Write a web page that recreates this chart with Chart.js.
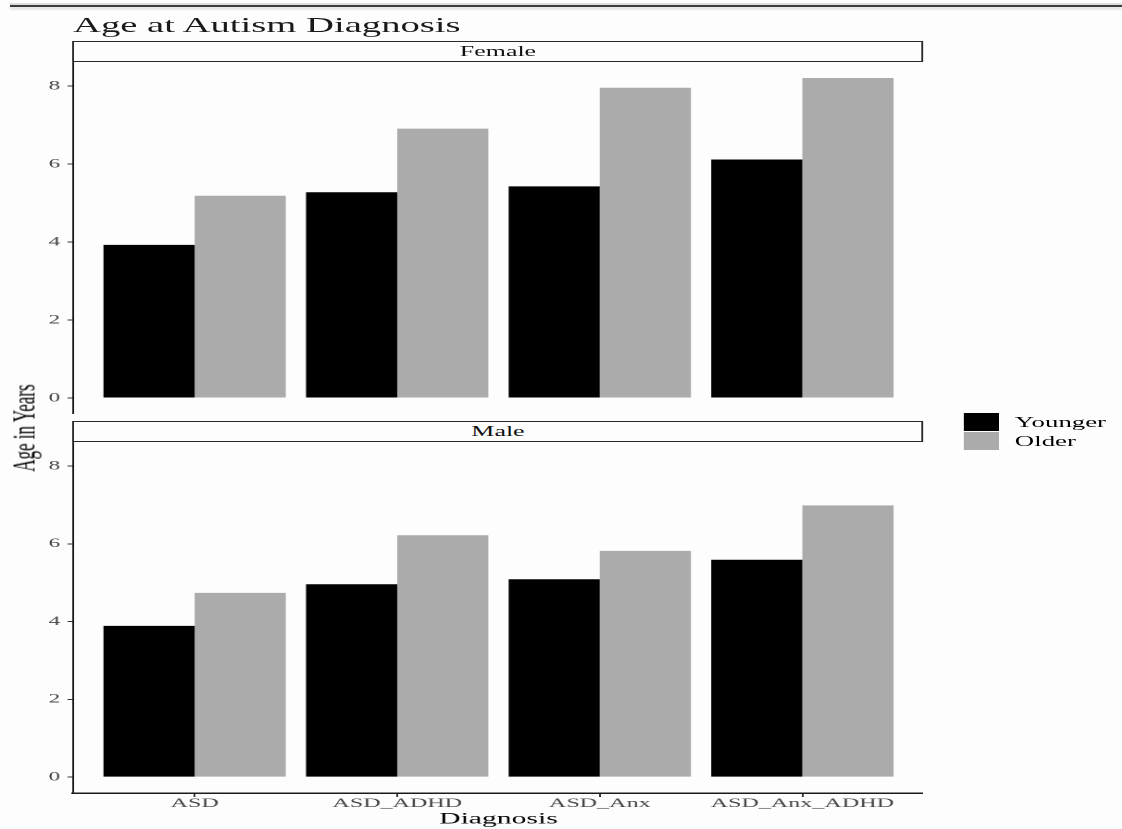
<!doctype html>
<html lang="en">

<head>
    <meta charset="utf-8">
    <title>Age at Autism Diagnosis</title>
    <style>
        * {
            margin: 0;
            padding: 0;
            box-sizing: border-box;
        }

        body {
            width: 1122px;
            height: 829px;
            background: #fdfdfd;
            overflow: hidden;
            font-family: "Liberation Serif", "Times New Roman", serif;
            position: relative;
        }

        .topRule {
            position: absolute;
            left: 10px;
            right: 0;
            top: 5px;
            height: 2px;
            background: #3c3c3c;
            box-shadow: 0 -2px 0 #dcdcdc, 0 2px 3px rgba(0, 0, 0, 0.18);
        }

        /* the source image is stretched sideways, so the whole plot is laid out narrow and widened */
        .stage {
            position: absolute;
            left: 0;
            top: 0;
            width: 606.5px;
            height: 829px;
            transform-origin: 0 0;
            transform: scaleX(1.85);
        }

        .title {
            position: absolute;
            left: 39.5px;
            top: 15px;
            font-size: 20.9px;
            line-height: 1;
            color: #1a1a1a;
            white-space: nowrap;
        }

        .strip {
            position: absolute;
            left: 39.46px;
            width: 459.46px;
            height: 21px;
            border: 1.3px solid #2a2a2a;
            background: #fdfdfd;
            font-size: 14px;
            line-height: 19px;
            text-align: center;
            color: #111;
        }

        .panel {
            position: absolute;
            left: 0;
            width: 498.92px;
        }

        .ylab {
            position: absolute;
            left: 12.97px;
            top: 428px;
            font-size: 17px;
            line-height: 1;
            color: #000;
            white-space: nowrap;
            transform: translate(-50%, -50%) rotate(-90deg);
        }

        .legend {
            position: absolute;
            left: 520.54px;
            top: 413px;
        }

        .legend .row {
            display: flex;
            align-items: center;
            height: 18.5px;
        }

        .legend .key {
            width: 19.46px;
            height: 18px;
        }

        .legend .txt {
            margin-left: 8.6px;
            font-size: 14.5px;
            line-height: 1;
            color: #000;
        }
    </style>
</head>

<body>
    <div class="topRule"></div>
    <div class="stage">
        <div class="title">Age at Autism Diagnosis</div>
        <div class="strip" id="strip1" style="top:41px"></div>
        <div class="panel" style="top:62px;height:352px">
            <canvas id="femaleChart"></canvas>
        </div>
        <div class="strip" id="strip2" style="top:421px"></div>
        <div class="panel" style="top:442px;height:387px">
            <canvas id="maleChart"></canvas>
        </div>
        <div class="ylab">Age in Years</div>
        <div class="legend" id="legend"></div>
    </div>

    <script src="https://cdn.jsdelivr.net/npm/chart.js"></script>
    <script>
        // data
        const categories = ['ASD', 'ASD_ADHD', 'ASD_Anx', 'ASD_Anx_ADHD'];
        const groups = ['Younger', 'Older'];
        const facets = ['Female', 'Male'];
        const femaleYounger = [3.93, 5.28, 5.43, 6.12];
        const femaleOlder = [5.19, 6.91, 7.96, 8.21];
        const maleYounger = [3.89, 4.96, 5.09, 5.59];
        const maleOlder = [4.74, 6.22, 5.82, 6.99];
        const yTicks = [0, 2, 4, 6, 8];

        const colors = ['#000000', '#ababab'];
        const fontFamily = '"Liberation Serif", "Times New Roman", serif';

        document.getElementById('strip1').textContent = facets[0];
        document.getElementById('strip2').textContent = facets[1];

        const legend = document.getElementById('legend');
        groups.forEach((g, i) => {
            const row = document.createElement('div');
            row.className = 'row';
            row.innerHTML = '<div class="key" style="background:' + colors[i] + '"></div><div class="txt">' + g + '</div>';
            legend.appendChild(row);
        });

        const toPoints = (vals) => vals.map((v, i) => ({ x: i + 1, y: v }));

        function makePanel(id, younger, older, showX) {
            return new Chart(document.getElementById(id), {
                type: 'bar',
                data: {
                    datasets: [{
                        label: groups[0],
                        data: toPoints(younger),
                        backgroundColor: colors[0],
                        borderWidth: 0
                    }, {
                        label: groups[1],
                        data: toPoints(older),
                        backgroundColor: colors[1],
                        borderWidth: 0
                    }]
                },
                options: {
                    responsive: true,
                    maintainAspectRatio: false,
                    devicePixelRatio: 2,
                    animation: false,
                    datasets: {
                        bar: {
                            categoryPercentage: 0.9,
                            barPercentage: 1.0
                        }
                    },
                    layout: { padding: 0 },
                    plugins: {
                        legend: { display: false },
                        tooltip: { enabled: false }
                    },
                    scales: {
                        x: {
                            type: 'linear',
                            min: 0.4,
                            max: 4.6,
                            offset: false,
                            display: showX,
                            afterBuildTicks: (scale) => {
                                scale.ticks = categories.map((c, i) => ({ value: i + 1 }));
                            },
                            afterFit: (scale) => {
                                scale.height = showX ? 36 : 0;
                                scale.paddingLeft = 0;
                                scale.paddingRight = 0;
                            },
                            grid: {
                                display: true,
                                offset: false,
                                drawOnChartArea: false,
                                drawTicks: true,
                                tickLength: 4,
                                color: '#333333',
                                lineWidth: 1
                            },
                            border: {
                                display: true,
                                color: '#1a1a1a',
                                width: 1.5
                            },
                            ticks: {
                                padding: 0,
                                autoSkip: false,
                                maxRotation: 0,
                                color: '#474747',
                                font: { family: fontFamily, size: 13, lineHeight: 1 },
                                callback: (v) => categories[v - 1]
                            },
                            title: {
                                display: true,
                                text: 'Diagnosis',
                                color: '#000000',
                                font: { family: fontFamily, size: 16, lineHeight: 1.2 },
                                padding: { top: 0, bottom: 0 }
                            }
                        },
                        y: {
                            min: -0.41,
                            max: 8.62,
                            afterBuildTicks: (scale) => {
                                scale.ticks = yTicks.map(v => ({ value: v }));
                            },
                            afterFit: (scale) => {
                                scale.width = 39.46;
                                scale.paddingTop = 0;
                                scale.paddingBottom = 0;
                            },
                            grid: {
                                display: true,
                                drawOnChartArea: false,
                                drawTicks: true,
                                tickLength: 3,
                                color: '#333333',
                                lineWidth: 1
                            },
                            border: {
                                display: true,
                                color: '#1a1a1a',
                                width: 1
                            },
                            ticks: {
                                padding: 4,
                                color: '#474747',
                                font: { family: fontFamily, size: 12.5 }
                            }
                        }
                    }
                }
            });
        }

        const femaleChart = makePanel('femaleChart', femaleYounger, femaleOlder, false);
        const maleChart = makePanel('maleChart', maleYounger, maleOlder, true);
    </script>
</body>

</html>
